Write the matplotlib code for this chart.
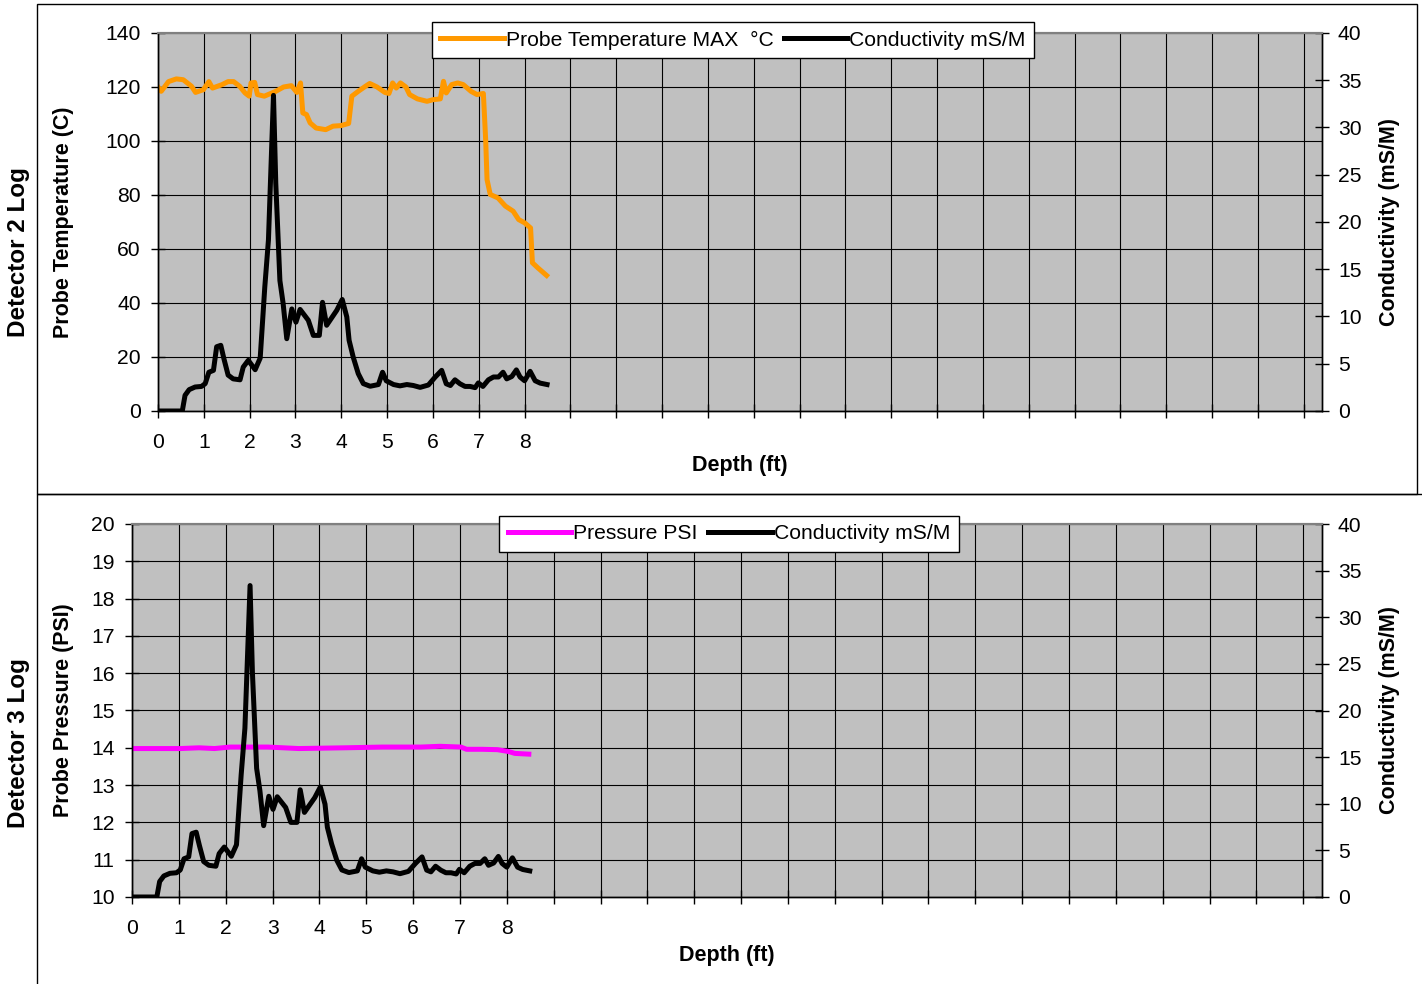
import matplotlib

matplotlib.use("Agg")

import matplotlib.pyplot as plt  # noqa: E402
from matplotlib.patches import Rectangle  # noqa: E402

plt.rcParams.update(
    {
        "font.family": ["Liberation Sans", "DejaVu Sans"],
        "font.size": 15,
        "axes.linewidth": 1.0,
    }
)

# ---- data (depth in ft) ----
cond_depth = [0, 0.53, 0.59, 0.68, 0.81, 0.95, 1.03, 1.11, 1.21, 1.28, 1.37, 1.44, 1.53,
              1.64, 1.79, 1.86, 1.97, 2.12, 2.23, 2.33, 2.41, 2.52, 2.57, 2.66, 2.73, 2.81,
              2.92, 3.01, 3.10, 3.28, 3.39, 3.52, 3.59, 3.68, 3.90, 4.02, 4.12, 4.17, 4.26,
              4.37, 4.48, 4.63, 4.81, 4.90, 4.98, 5.14, 5.28, 5.43, 5.57, 5.72, 5.90, 6.05,
              6.19, 6.29, 6.38, 6.48, 6.59, 6.70, 6.81, 6.92, 6.99, 7.09, 7.21, 7.32, 7.43,
              7.53, 7.61, 7.72, 7.82, 7.90, 8.00, 8.12, 8.23, 8.34, 8.49]
conductivity = [0, 0, 1.66, 2.26, 2.54, 2.6, 2.9, 4.1, 4.3, 6.8, 6.95, 5.5, 3.8,
                3.4, 3.3, 4.65, 5.36, 4.37, 5.6, 13.1, 18.1, 33.4, 24.1, 13.8, 11.4, 7.65,
                10.8, 9.4, 10.75, 9.6, 8.0, 8.0, 11.5, 9.07, 10.65, 11.8, 9.95, 7.48, 5.7,
                3.95, 2.9, 2.62, 2.8, 4.1, 3.2, 2.8, 2.66, 2.8, 2.7, 2.5, 2.75, 3.6,
                4.3, 2.88, 2.7, 3.3, 2.88, 2.6, 2.6, 2.47, 2.97, 2.6, 3.3, 3.6, 3.6,
                4.1, 3.4, 3.65, 4.35, 3.6, 3.2, 4.2, 3.2, 2.95, 2.8]

temp_depth = [0, 0.07, 0.23, 0.40, 0.55, 0.73, 0.82, 0.99, 1.11, 1.19, 1.40, 1.53, 1.65,
              1.78, 1.90, 1.99, 2.03, 2.11, 2.17, 2.32, 2.57, 2.74, 2.91, 3.03, 3.11, 3.16,
              3.24, 3.32, 3.45, 3.66, 3.82, 3.99, 4.16, 4.23, 4.37, 4.53, 4.62, 4.78, 4.95,
              5.04, 5.12, 5.20, 5.29, 5.41, 5.49, 5.66, 5.87, 6.00, 6.16, 6.23, 6.29, 6.41,
              6.54, 6.66, 6.83, 6.96, 7.10, 7.15, 7.18, 7.25, 7.42, 7.58, 7.75, 7.87, 8.00,
              8.13, 8.17, 8.29, 8.48]
temperature = [120, 118.4, 122, 123, 122.7, 120.3, 118, 119, 122, 119.6, 120.9, 122, 122,
               120.3, 117.8, 116.6, 121.5, 121.7, 117.2, 116.6, 118.4, 120, 120.5, 118, 121.5, 110.4,
               109.8, 106.7, 104.8, 104.2, 105.5, 105.7, 106.5, 116.6, 118.4, 120.3, 121.3, 120, 118,
               117.6, 121.5, 119.6, 121.5, 120, 117.2, 115.6, 114.7, 115.3, 115.6, 122.1, 117.8, 120.9,
               121.5, 120.9, 118.4, 117.2, 117.6, 100.5, 85.7, 80.2, 78.9, 75.9, 74, 70.9, 69.7,
               67.8, 54.9, 53, 50.2]

pres_depth = [0, 1.03, 1.43, 1.76, 2.09, 2.90, 3.56, 4.54, 5.35, 6.17, 6.57, 7.02, 7.14,
              7.47, 7.80, 8.04, 8.17, 8.47]
pressure = [13.98, 13.98, 14.0, 13.98, 14.02, 14.02, 13.98, 14.0, 14.02, 14.02, 14.04, 14.02, 13.96,
            13.96, 13.95, 13.9, 13.85, 13.83]

x_ticks = list(range(0, 26))
x_tick_labels = [str(i) if i <= 8 else "" for i in x_ticks]

PLOT_BG = "#C0C0C0"
ORANGE = "#FF9900"
MAGENTA = "#FF00FF"
W, H = 1422, 984
TICK_FS = 15.2
LABEL_FS = 15.5
LEGEND_FS = 15.2
LW = 3.6


def px_rect(left, top, right, bottom):
    return [left / W, 1 - bottom / H, (right - left) / W, (bottom - top) / H]


def style_axes(ax, twin, ylim, yticks, ylabel, ylabel_x, xlabel_y, right_x):
    ax.set_facecolor(PLOT_BG)
    ax.set_xlim(0, 25.4)
    ax.set_ylim(*ylim)
    ax.set_yticks(yticks)
    ax.set_xticks(x_ticks)
    ax.set_xticklabels(x_tick_labels)
    ax.grid(True, color="black", lw=0.8)
    ax.set_axisbelow(True)
    ax.tick_params(axis="both", direction="inout", length=10, width=1, labelsize=TICK_FS)
    ax.tick_params(axis="x", pad=11)
    ax.tick_params(axis="y", pad=7.5)
    ax.set_ylabel(ylabel, fontsize=LABEL_FS, fontweight="bold")
    ax.yaxis.set_label_coords(ylabel_x, 0.5)
    ax.set_xlabel("Depth (ft)", fontsize=LABEL_FS, fontweight="bold")
    ax.xaxis.set_label_coords(0.5, xlabel_y)

    twin.set_ylim(0, 40)
    twin.set_yticks(range(0, 45, 5))
    twin.tick_params(axis="y", direction="inout", length=10, width=1, labelsize=TICK_FS, pad=6.5)
    twin.set_ylabel("Conductivity (mS/M)", fontsize=LABEL_FS, fontweight="bold")
    twin.yaxis.set_label_coords(right_x, 0.5)
    for a in (ax, twin):
        a.spines["top"].set_color("#808080")
        a.spines["top"].set_linewidth(1.5)


def add_legend(twin, handles, center_x, top_y):
    twin.legend(handles, [h.get_label() for h in handles], ncol=2, loc="upper center",
                bbox_to_anchor=(center_x / W, 1 - top_y / H), bbox_transform=fig.transFigure,
                fontsize=LEGEND_FS, frameon=True, fancybox=False, framealpha=1,
                edgecolor="black", borderaxespad=0, borderpad=0.4, handlelength=3,
                handletextpad=0.1, columnspacing=0.5)


fig = plt.figure(figsize=(W / 100, H / 100), dpi=100)

# outer frames
fig.add_artist(Rectangle((37 / W, 1 - 494 / H), (1417 - 37) / W, 490 / H,
                         transform=fig.transFigure, fill=False, ec="black", lw=1))
fig.add_artist(Rectangle((37 / W, -0.05), 1.0, 1 - 494 / H + 0.05,
                         transform=fig.transFigure, fill=False, ec="black", lw=1))

# ---- top panel: Detector 2 ----
ax1 = fig.add_axes(px_rect(158, 33, 1322, 411))
tw1 = ax1.twinx()
l1, = ax1.plot(temp_depth, temperature, color=ORANGE, lw=LW, label="Probe Temperature MAX  °C")
l2, = tw1.plot(cond_depth, conductivity, color="black", lw=LW, label="Conductivity mS/M")
style_axes(ax1, tw1, (0, 140), range(0, 160, 20), "Probe Temperature (C)",
           -0.072, -0.116, 1.049)
add_legend(tw1, [l1, l2], 733, 22)
fig.text(19 / W, 1 - 252 / H, "Detector 2 Log", rotation=90, ha="center", va="center",
         fontsize=17.5, fontweight="bold")

# ---- bottom panel: Detector 3 ----
ax2 = fig.add_axes(px_rect(132, 524, 1322, 897))
tw2 = ax2.twinx()
l3, = ax2.plot(pres_depth, pressure, color=MAGENTA, lw=LW, label="Pressure PSI")
l4, = tw2.plot(cond_depth, conductivity, color="black", lw=LW, label="Conductivity mS/M")
style_axes(ax2, tw2, (10, 20), range(10, 21), "Probe Pressure (PSI)",
           -0.049, -0.130, 1.048)
add_legend(tw2, [l3, l4], 729, 516)
fig.text(19 / W, 1 - 743 / H, "Detector 3 Log", rotation=90, ha="center", va="center",
         fontsize=17.5, fontweight="bold")

fig.savefig("out.png", dpi=100)
